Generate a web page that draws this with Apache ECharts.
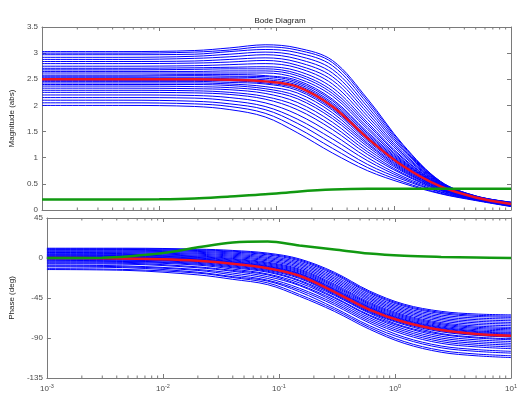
<!DOCTYPE html>
<html><head><meta charset="utf-8">
<script src="https://cdn.jsdelivr.net/npm/echarts@6/dist/echarts.min.js"></script>
<style>html,body{margin:0;padding:0;background:#fff}#c{width:530px;height:393px}</style>
</head><body><div id="c"></div>
<script>
// ---- data ----
const magTicks = [0, 0.5, 1, 1.5, 2, 2.5, 3, 3.5];
const phaseTicks = [-135, -90, -45, 0, 45];
const freqTicks = [0.001, 0.01, 0.1, 1, 10];
const minorTicks = [0.002,0.003,0.004,0.005,0.006,0.007,0.008,0.009,
  0.02,0.03,0.04,0.05,0.06,0.07,0.08,0.09,
  0.2,0.3,0.4,0.5,0.6,0.7,0.8,0.9,
  2,3,4,5,6,7,8,9];

const freqBlue = [0.001, 0.005, 0.02, 0.04, 0.08, 0.15, 0.3, 0.6, 1.2, 2.5, 5, 10];
const freqMean = [0.001, 0.003, 0.01, 0.02, 0.04, 0.08, 0.15, 0.3, 0.6, 1.2, 2.5, 5, 10];

const meanMag   = [2.50, 2.50, 2.50, 2.50, 2.49, 2.46, 2.36, 1.98, 1.37, 0.84, 0.45, 0.24, 0.115];
const meanPhase = [0, -0.3, -1.5, -3.2, -6.5, -11.5, -20, -38, -58, -72, -81, -85.5, -87.5];
const stdMag    = [0.20, 0.20, 0.205, 0.22, 0.26, 0.30, 0.35, 0.39, 0.405, 0.405, 0.405, 0.405, 0.405];
const stdPhase  = [0, 0.3, 5.5, 12, 17.5, 18.6, 14, 9.5, 5, 2.5, 1.2, 0.5, 0];

const blueMag = [
  [2.00,2.00,1.98,1.92,1.78,1.48,1.09,0.75,0.51,0.31,0.18,0.065],
  [2.05,2.05,2.03,1.98,1.85,1.57,1.18,0.81,0.54,0.32,0.19,0.07],
  [2.10,2.10,2.08,2.03,1.92,1.66,1.27,0.87,0.58,0.34,0.19,0.075],
  [2.15,2.15,2.14,2.09,1.98,1.74,1.36,0.94,0.61,0.35,0.20,0.08],
  [2.20,2.20,2.19,2.15,2.05,1.83,1.45,1.00,0.64,0.37,0.20,0.085],
  [2.25,2.25,2.24,2.21,2.12,1.92,1.54,1.06,0.68,0.38,0.21,0.09],
  [2.29,2.29,2.28,2.25,2.17,1.99,1.61,1.11,0.70,0.39,0.215,0.094],
  [2.33,2.33,2.32,2.30,2.23,2.06,1.68,1.16,0.73,0.40,0.22,0.098],
  [2.37,2.37,2.36,2.34,2.28,2.13,1.75,1.21,0.75,0.41,0.224,0.102],
  [2.40,2.40,2.40,2.38,2.32,2.18,1.80,1.25,0.77,0.42,0.228,0.105],
  [2.43,2.43,2.43,2.41,2.36,2.24,1.86,1.28,0.79,0.43,0.232,0.108],
  [2.46,2.46,2.46,2.44,2.41,2.29,1.91,1.32,0.81,0.44,0.235,0.111],
  [2.48,2.48,2.48,2.47,2.43,2.32,1.94,1.35,0.83,0.445,0.238,0.113],
  [2.52,2.52,2.52,2.51,2.49,2.39,2.02,1.40,0.86,0.454,0.241,0.116],
  [2.54,2.54,2.54,2.54,2.52,2.42,2.05,1.43,0.87,0.458,0.242,0.118],
  [2.56,2.56,2.57,2.56,2.55,2.45,2.09,1.46,0.89,0.46,0.244,0.119],
  [2.58,2.58,2.59,2.59,2.57,2.48,2.12,1.49,0.91,0.466,0.245,0.121],
  [2.62,2.62,2.62,2.62,2.62,2.52,2.18,1.54,0.93,0.47,0.247,0.123],
  [2.65,2.65,2.65,2.66,2.66,2.57,2.23,1.58,0.95,0.478,0.248,0.125],
  [2.68,2.68,2.69,2.70,2.70,2.61,2.28,1.63,0.98,0.484,0.25,0.127],
  [2.71,2.71,2.72,2.73,2.74,2.66,2.34,1.67,1.00,0.49,0.252,0.129],
  [2.75,2.75,2.76,2.78,2.80,2.72,2.41,1.73,1.04,0.498,0.254,0.132],
  [2.80,2.80,2.81,2.83,2.86,2.77,2.48,1.79,1.07,0.506,0.257,0.135],
  [2.84,2.84,2.85,2.88,2.91,2.83,2.55,1.85,1.10,0.514,0.259,0.137],
  [2.88,2.88,2.90,2.93,2.97,2.89,2.62,1.91,1.14,0.522,0.262,0.14],
  [2.92,2.92,2.94,2.98,3.02,2.95,2.69,1.97,1.17,0.53,0.264,0.143],
  [2.97,2.97,2.98,3.03,3.07,3.01,2.76,2.03,1.20,0.538,0.266,0.146],
  [3.00,3.00,3.02,3.06,3.12,3.06,2.82,2.08,1.23,0.544,0.268,0.148],
  [3.03,3.03,3.05,3.10,3.16,3.10,2.86,2.12,1.25,0.55,0.27,0.15]
];

const bluePhase = [
  [-13,-14,-19,-24,-30,-43,-60,-80,-96,-106,-110,-112],
  [-12,-13,-17,-22,-28,-41,-58,-78,-94,-104,-108,-110],
  [-10,-11,-16,-21,-26,-38,-56,-76,-91,-101,-105,-107],
  [-9,-10,-14,-19,-25,-36,-53,-73,-89,-99,-103,-105],
  [-8,-9,-13,-17,-23,-34,-51,-71,-86,-96,-100,-102],
  [-6.5,-7,-11,-15,-21,-31,-49,-69,-84,-94,-98,-100],
  [-5.5,-6,-10,-14,-19,-30,-47,-67,-82,-92,-96,-98],
  [-4.5,-5,-8,-12.5,-18,-28,-45,-65,-80,-90,-94,-96],
  [-3.5,-4,-7,-11,-16,-26,-44,-64,-78,-88,-92,-94],
  [-2.5,-3.5,-6,-10,-15,-25,-42,-62,-77,-86,-90,-92],
  [-2,-2.5,-5,-9,-14,-23,-41,-61,-75,-85,-89,-91],
  [-1,-2,-4,-8,-13,-22,-40,-60,-74,-83,-87,-89],
  [-0.5,-1,-3.5,-7,-12,-21,-39,-59,-73,-82,-86.5,-88.5],
  [0.4,-0.2,-2.5,-5.9,-10.8,-19.2,-37.1,-57.2,-71.2,-80.2,-84.6,-86.6],
  [0.9,0.2,-2,-5.3,-10.1,-18.5,-36.2,-56.3,-70.4,-79.3,-83.7,-85.6],
  [1.3,0.7,-1.4,-4.7,-9.5,-17.7,-35.4,-55.5,-69.6,-78.5,-82.8,-84.7],
  [1.8,1.2,-0.9,-4.1,-8.8,-17,-34.5,-54.6,-68.8,-77.6,-81.9,-83.7],
  [2.4,1.9,-0.1,-3.2,-7.8,-15.8,-33.2,-53.4,-67.6,-76.4,-80.6,-82.3],
  [3.1,2.6,0.6,-2.3,-6.7,-14.7,-31.8,-52.1,-66.4,-75.1,-79.2,-80.9],
  [3.7,3.3,1.4,-1.4,-5.7,-13.5,-30.5,-50.9,-65.2,-73.9,-77.9,-79.5],
  [4.4,4,2.2,-0.5,-4.7,-12.4,-29.2,-49.6,-64,-72.6,-76.5,-78.1],
  [5.3,4.9,3.2,0.7,-3.3,-10.9,-27.4,-47.9,-62.4,-70.9,-74.7,-76.2],
  [6.2,5.9,4.3,1.9,-2,-9.4,-25.7,-46.2,-60.8,-69.2,-72.9,-74.3],
  [7,6.8,5.3,3.1,-0.6,-7.8,-23.9,-44.6,-59.2,-67.6,-71.1,-72.5],
  [7.9,7.7,6.4,4.3,0.7,-6.3,-22.2,-42.9,-57.6,-65.9,-69.3,-70.6],
  [8.8,8.7,7.4,5.5,2.1,-4.8,-20.4,-41.2,-56,-64.2,-67.5,-68.7],
  [9.7,9.6,8.4,6.7,3.5,-3.3,-18.6,-39.5,-54.4,-62.5,-65.7,-66.8],
  [10.3,10.3,9.2,7.6,4.5,-2.1,-17.3,-38.3,-53.2,-61.3,-64.4,-65.4],
  [11,11,10,8.5,5.5,-1,-16,-37,-52,-60,-63,-64]
];

// ---- chart ----
const AX = '#7a7a7a', LB = '#4a4a4a', FONT = 'Liberation Sans, Arial, sans-serif';
const chart = echarts.init(document.getElementById('c'), null, {renderer: 'canvas'});

function xAx(grid, pos, labels) {
  return {
    gridIndex: grid, type: 'log', logBase: 10, min: freqTicks[0], max: freqTicks[freqTicks.length - 1],
    position: pos,
    axisLine: {show: true, onZero: false, lineStyle: {color: AX, width: 1}},
    axisTick: {show: true, inside: true, length: 4, lineStyle: {color: AX}},
    splitLine: {show: false},
    axisLabel: labels ? {
      show: true, margin: 5, color: LB, fontFamily: FONT, fontSize: 8,
      formatter: v => '10{s|' + Math.round(Math.log10(v)) + '}',
      rich: {s: {fontSize: 5.5, fontFamily: FONT, color: LB, padding: [0, 0, 6, 0]}}
    } : {show: false}
  };
}
function yAx(grid, pos, ticks, labels, name) {
  return {
    gridIndex: grid, type: 'value', position: pos,
    min: ticks[0], max: ticks[ticks.length - 1], interval: ticks[1] - ticks[0],
    axisLine: {show: true, onZero: false, lineStyle: {color: AX, width: 1}},
    axisTick: {show: true, inside: true, length: 4, lineStyle: {color: AX}},
    splitLine: {show: false},
    axisLabel: labels ? {show: true, margin: 4, color: LB, fontFamily: FONT, fontSize: 8,
      showMinLabel: true, showMaxLabel: true} : {show: false},
    name: name || '', nameLocation: 'middle', nameRotate: 90, nameGap: 23,
    nameTextStyle: {color: '#222', fontFamily: FONT, fontSize: 8}
  };
}

const series = [];
blueMag.forEach(row => series.push({
  type: 'line', xAxisIndex: 0, yAxisIndex: 0, silent: true, symbol: 'none', smooth: 0.35,
  data: freqBlue.map((f, i) => [f, row[i]]), lineStyle: {color: '#0000ff', width: 1}, z: 2
}));
bluePhase.forEach(row => series.push({
  type: 'line', xAxisIndex: 2, yAxisIndex: 2, silent: true, symbol: 'none', smooth: 0.35,
  data: freqBlue.map((f, i) => [f, row[i]]), lineStyle: {color: '#0000ff', width: 1}, z: 2
}));
[[0, 0, meanMag, '#ee1122'], [0, 0, stdMag, '#119911'], [2, 2, meanPhase, '#ee1122'], [2, 2, stdPhase, '#119911']]
  .forEach(([xi, yi, arr, col]) => series.push({
    type: 'line', xAxisIndex: xi, yAxisIndex: yi, silent: true, symbol: 'none', smooth: 0.35,
    data: freqMean.map((f, i) => [f, arr[i]]), lineStyle: {color: col, width: 2.5}, z: 3
  }));

function minorSeries(xi, yi, ticks) {
  const lo = ticks[0], hi = ticks[ticks.length - 1];
  return {
    type: 'custom', xAxisIndex: xi, yAxisIndex: yi, silent: true, clip: false, z: 5,
    data: minorTicks.map(f => [f, lo]),
    renderItem: (params, api) => {
      const f = api.value(0);
      const b = api.coord([f, lo]), t = api.coord([f, hi]);
      return {type: 'group', children: [
        {type: 'line', shape: {x1: b[0], y1: b[1], x2: b[0], y2: b[1] - 2.5}, style: {stroke: AX, lineWidth: 1}},
        {type: 'line', shape: {x1: t[0], y1: t[1], x2: t[0], y2: t[1] + 2.5}, style: {stroke: AX, lineWidth: 1}}
      ]};
    }
  };
}
series.push(minorSeries(0, 0, magTicks));
series.push(minorSeries(2, 2, phaseTicks));

chart.setOption({
  animation: false,
  backgroundColor: '#ffffff',
  title: {text: 'Bode Diagram', left: 275, top: 12, textAlign: 'center',
    textStyle: {fontSize: 8, fontWeight: 'normal', color: '#222', fontFamily: FONT}},
  grid: [
    {left: 40, right: 19, top: 27, height: 183},
    {left: 40, right: 19, top: 218, height: 161}
  ],
  xAxis: [xAx(0, 'bottom', false), xAx(0, 'top', false), xAx(1, 'bottom', true), xAx(1, 'top', false)],
  yAxis: [
    yAx(0, 'left', magTicks, true, 'Magnitude (abs)'),
    yAx(0, 'right', magTicks, false),
    yAx(1, 'left', phaseTicks, true, 'Phase (deg)'),
    yAx(1, 'right', phaseTicks, false)
  ],
  series: series
});
</script></body></html>
